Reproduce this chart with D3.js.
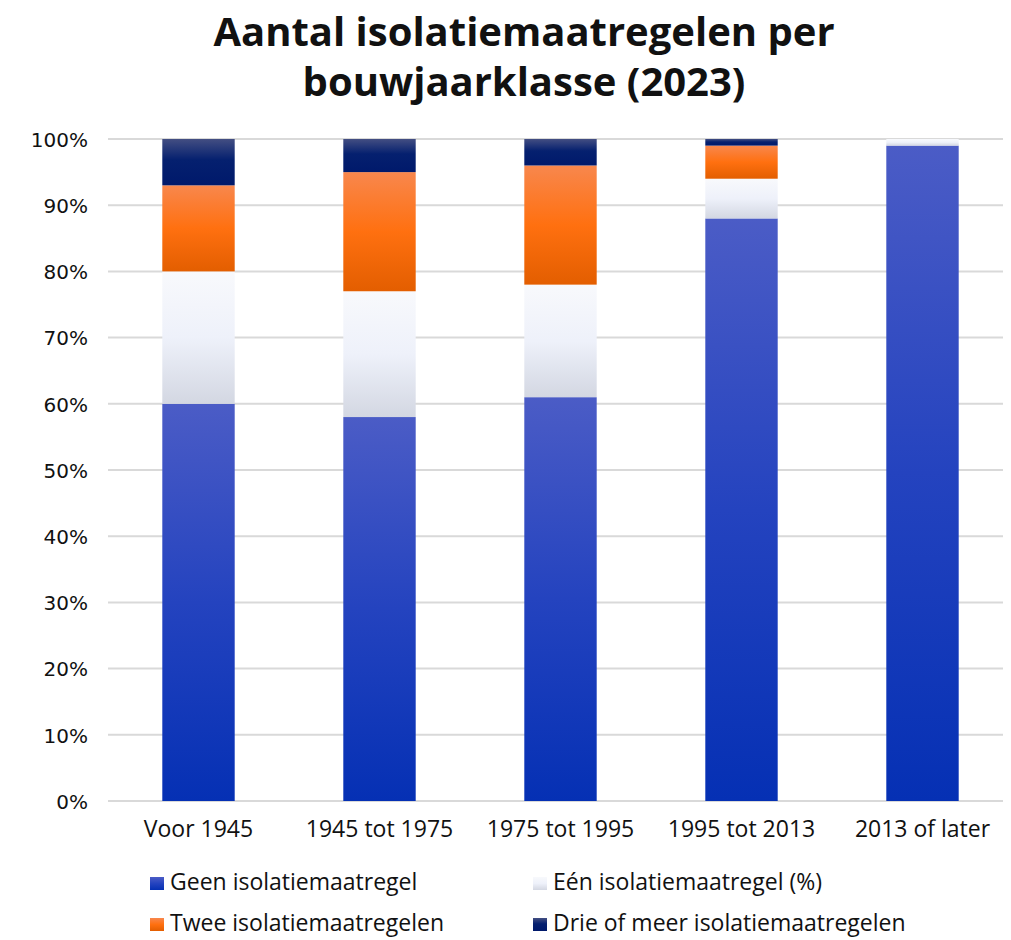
<!DOCTYPE html>
<html lang="nl">

<head>
    <meta charset="UTF-8">
    <title>isolatiemaatregelen</title>
    <style>
        body {
            margin: 0;
            background: #ffffff;
        }

        svg text {
            font-family: "Open Sans", Lato, sans-serif;
            fill: #111111;
        }
    </style>
</head>

<body>

    <!-- Load d3.js -->
    <script src="https://d3js.org/d3.v7.min.js"></script>

    <div id="chart"></div>
    <script>
        // data (percent per building period)
        var categories = ["Voor 1945", "1945 tot 1975", "1975 tot 1995", "1995 tot 2013", "2013 of later"];
        var geen = [60, 58, 61, 88, 99];
        var een = [20, 19, 17, 6, 1];
        var twee = [13, 18, 18, 5, 0];
        var drie = [7, 5, 4, 1, 0];
        var seriesNames = ["Geen isolatiemaatregel", "Eén isolatiemaatregel (%)", "Twee isolatiemaatregelen", "Drie of meer isolatiemaatregelen"];
        var yTicks = [0, 10, 20, 30, 40, 50, 60, 70, 80, 90, 100];
        var titleLines = ["Aantal isolatiemaatregelen per", "bouwjaarklasse (2023)"];

        var width = 1011, height = 940;
        var margin = { top: 139, right: 8, bottom: 139, left: 108 };

        var svg = d3.select("#chart")
            .append("svg")
            .attr("width", width)
            .attr("height", height);

        // gradients for each series
        var gradStops = [
            [["0%", "#4b5cc6"], ["50%", "#2443bf"], ["100%", "#0530b4"]],
            [["0%", "#f8f9fc"], ["50%", "#eef1fa"], ["100%", "#d3d7e2"]],
            [["0%", "#f8874d"], ["50%", "#ff7010"], ["100%", "#e35e00"]],
            [["0%", "#434e82"], ["45%", "#05206f"], ["100%", "#00196b"]]
        ];
        var defs = svg.append("defs");
        gradStops.forEach(function (stops, i) {
            var g = defs.append("linearGradient")
                .attr("id", "grad" + i)
                .attr("x1", 0).attr("y1", 0)
                .attr("x2", 0).attr("y2", 1);
            stops.forEach(function (s) {
                g.append("stop").attr("offset", s[0]).attr("stop-color", s[1]);
            });
        });

        // title, one text per line
        svg.append("g")
            .selectAll("text")
            .data(titleLines)
            .enter()
            .append("text")
            .attr("text-anchor", "middle")
            .style("font-weight", "bold")
            .style("font-size", "40px")
            .attr("x", 524)
            .attr("y", function (d, i) { return 46 + i * 50; })
            .text(function (d) { return d; });

        // scales
        var x = d3.scaleBand()
            .domain(categories)
            .range([margin.left, 1013])
            .paddingInner(0.6)
            .paddingOuter(0.3);

        var y = d3.scaleLinear()
            .domain([0, 100])
            .range([801, margin.top]);

        // gridlines
        svg.append("g")
            .selectAll("line")
            .data(yTicks)
            .enter()
            .append("line")
            .attr("x1", margin.left)
            .attr("x2", 1003)
            .attr("y1", function (d) { return y(d); })
            .attr("y2", function (d) { return y(d); })
            .attr("stroke", "#d9d9d9")
            .attr("stroke-width", 2);

        // y axis labels
        var yAxis = svg.append("g")
            .attr("transform", "translate(" + (margin.left - 20) + ",0)")
            .call(d3.axisLeft(y).tickValues(yTicks).tickSize(0).tickFormat(function (d) { return d + "%"; }));
        yAxis.select(".domain").remove();
        yAxis.selectAll("text")
            .attr("x", 0)
            .attr("dy", "0.36em")
            .style("font-family", "'DejaVu Sans', sans-serif")
            .style("font-size", "20px");

        // x axis labels
        var xAxis = svg.append("g")
            .attr("transform", "translate(0," + 801 + ")")
            .call(d3.axisBottom(x).tickSize(0));
        xAxis.select(".domain").remove();
        xAxis.selectAll("text")
            .attr("y", 20)
            .attr("dy", "0.71em")
            .style("font-size", "23px");

        // stacked data
        var table = categories.map(function (c, i) {
            return { cat: c, s0: geen[i], s1: een[i], s2: twee[i], s3: drie[i] };
        });
        var stack = d3.stack().keys(["s0", "s1", "s2", "s3"]);
        var layers = stack(table);

        svg.append("g")
            .selectAll("g")
            .data(layers)
            .enter()
            .append("g")
            .attr("fill", function (d, i) { return "url(#grad" + i + ")"; })
            .selectAll("rect")
            .data(function (d) { return d.filter(function (p) { return p[1] - p[0] > 0; }); })
            .enter()
            .append("rect")
            .attr("x", function (d) { return x(d.data.cat); })
            .attr("y", function (d) { return y(d[1]); })
            .attr("width", x.bandwidth())
            .attr("height", function (d) { return y(d[0]) - y(d[1]); });

        // legend
        var legendPos = [[150, 877], [533, 877], [150, 918], [533, 918]];
        var legend = svg.append("g")
            .selectAll("g")
            .data(seriesNames)
            .enter()
            .append("g")
            .attr("transform", function (d, i) { return "translate(" + legendPos[i][0] + "," + legendPos[i][1] + ")"; });
        legend.append("rect")
            .attr("width", 14)
            .attr("height", 13)
            .attr("fill", function (d, i) { return "url(#grad" + i + ")"; });
        legend.append("text")
            .attr("x", 20)
            .attr("y", 13)
            .style("font-size", "23px")
            .text(function (d) { return d; });
    </script>
</body>

</html>
